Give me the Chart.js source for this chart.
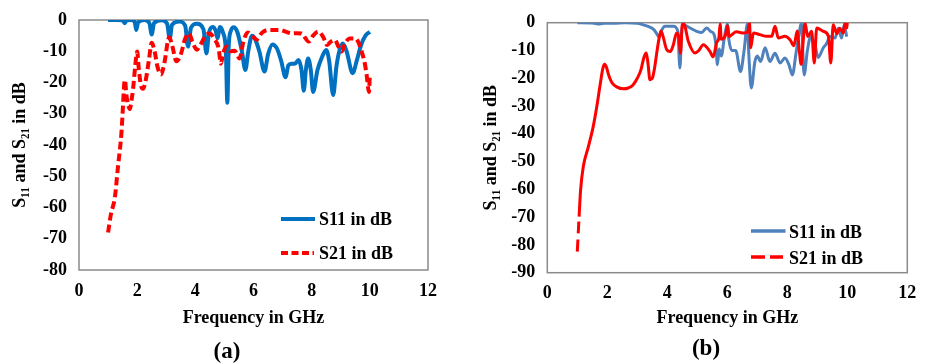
<!DOCTYPE html>
<html><head><meta charset="utf-8">
<script src="https://cdn.jsdelivr.net/npm/chart.js@4"></script>
<style>
html,body{margin:0;padding:0;background:#fff;}
body{width:928px;height:363px;position:relative;overflow:hidden;font-family:'Liberation Serif','Times New Roman',serif;font-weight:bold;color:#000;}
.panel{position:absolute;top:0;width:464px;height:363px;}
.lg{position:absolute;font-size:18px;line-height:20px;white-space:nowrap;}
.sw{position:absolute;}
.cap{position:absolute;font-size:23px;line-height:26px;width:60px;text-align:center;}
</style></head><body>
<div class="panel" style="left:0"><canvas id="ca" width="464" height="363"></canvas></div>
<div class="panel" style="left:464px"><canvas id="cb" width="464" height="363"></canvas></div>

<svg class="sw" style="left:281px;top:213px" width="36" height="12"><line x1="0" y1="6" x2="34" y2="6" stroke="#0070C0" stroke-width="4"/></svg>
<div class="lg" style="left:319px;top:209px">S11 in dB</div>
<svg class="sw" style="left:281px;top:247px" width="36" height="12"><line x1="0" y1="6" x2="33" y2="6" stroke="#FF0000" stroke-width="4" stroke-dasharray="7 3.5"/></svg>
<div class="lg" style="left:319px;top:243px">S21 in dB</div>

<svg class="sw" style="left:751px;top:225px" width="36" height="12"><line x1="0" y1="6" x2="34.5" y2="6" stroke="#4F81BD" stroke-width="3.5"/></svg>
<div class="lg" style="left:789px;top:222px">S11 in dB</div>
<svg class="sw" style="left:751px;top:251px" width="36" height="12"><line x1="0" y1="6" x2="32" y2="6" stroke="#FF0000" stroke-width="3.5" stroke-dasharray="14 5"/></svg>
<div class="lg" style="left:789px;top:248px">S21 in dB</div>

<div class="cap" style="left:197px;top:338px">(a)</div>
<div class="cap" style="left:676px;top:335px">(b)</div>

<script>
// ---- Panel (a) data ----
const freqA11 = [1.0,1.3,1.5,1.57,1.64,1.8,1.92,1.97,2.03,2.25,2.42,2.5,2.58,2.85,3.03,3.12,3.2,3.45,3.65,3.75,3.85,4.05,4.28,4.38,4.47,4.6,4.7,4.76,4.85,4.95,5.05,5.1,5.15,5.22,5.33,5.45,5.6,5.72,5.82,5.95,6.05,6.2,6.38,6.5,6.65,6.8,6.95,7.1,7.2,7.3,7.42,7.55,7.65,7.73,7.8,7.88,7.97,8.05,8.2,8.35,8.5,8.6,8.74,8.85,8.95,9.07,9.2,9.41,9.55,9.7,9.85,10.0];
const s11A = [0,0,-0.1,-1.0,-0.1,0,-0.8,-3.2,-0.8,0,-1,-4.6,-1,-0.1,-1.2,-6.0,-1.5,-0.5,-1.8,-8.5,-2.5,-1.2,-3,-10.7,-4,-2.2,-3.5,-5.8,-2.2,-4,-10,-26.5,-8,-3.5,-2.3,-4,-10,-16,-10,-5,-6,-10,-16.5,-11,-7.8,-9,-13,-18.3,-14.5,-14,-14,-12.8,-16,-22.6,-16,-12.3,-16,-23,-16,-12,-9.6,-13,-24,-15,-10,-7.5,-10,-17,-13,-8,-5,-3.8];
const freqA21 = [1.0,1.1,1.23,1.34,1.46,1.51,1.55,1.58,1.63,1.7,1.75,1.8,1.86,1.93,2.0,2.05,2.12,2.2,2.3,2.4,2.5,2.6,2.7,2.82,2.95,3.05,3.1,3.2,3.35,3.5,3.65,3.78,3.9,4.05,4.2,4.35,4.5,4.65,4.8,4.88,4.95,5.07,5.2,5.35,5.52,5.65,5.8,6.0,6.1,6.3,6.5,6.9,7.1,7.31,7.5,7.65,7.9,8.05,8.23,8.4,8.53,8.65,8.8,8.92,9.03,9.15,9.3,9.5,9.6,9.72,9.83,9.89,9.97,10.0];
const s21A = [-68,-62,-57,-47,-36,-28,-21,-19.2,-24,-27.5,-28.5,-26,-22,-15,-10.1,-15,-20.5,-22,-19,-13,-7.3,-10,-15,-17.4,-13,-7,-5.5,-8,-13.2,-11,-6,-4.3,-7,-9.5,-7.5,-5,-4.3,-6,-9,-14,-11,-8.5,-10,-9.8,-12.3,-7,-4,-5.5,-6.3,-4,-3.2,-3.2,-3.7,-4.3,-4.2,-4.3,-6.9,-5,-3.7,-5.5,-8,-7,-6.4,-8.5,-10.1,-7.5,-5.9,-5.9,-7,-10.1,-14,-17.6,-23,-17.6];

// ---- Panel (b) data ----
const freqB11 = [1.0,1.5,1.75,1.9,2.2,2.6,3.0,3.2,3.4,3.55,3.65,3.72,3.8,3.92,4.2,4.35,4.42,4.48,4.53,4.76,4.98,5.15,5.31,5.45,5.55,5.62,5.67,5.73,5.8,5.9,6.0,6.05,6.15,6.28,6.44,6.56,6.67,6.72,6.8,6.92,7.0,7.11,7.26,7.42,7.59,7.76,7.92,8.05,8.17,8.29,8.4,8.47,8.56,8.67,8.78,8.92,9.03,9.2,9.31,9.42,9.59,9.7,9.81,9.89,9.98];
const s11B = [0,-0.1,-0.5,-0.2,-0.2,0,-0.2,-0.8,-1.5,-2.5,-4,-5.2,-3,-1.3,-1.3,-3,-16.3,-3,-0.7,-1.9,-3.1,-3.5,-1.9,-3.2,-4,-8,-15.1,-9.5,-12,-5.5,-0.5,-6,-10,-10,-17.6,-10,-0.5,-12,-23.5,-14,-12,-14,-9,-14,-11,-14.5,-12.7,-15,-18.8,-11,-3.5,0,-18.8,-10,-5,-8,-12.5,-9,-7.5,-5,-5.5,-2,-5.5,-1,-5];
const freqB21 = [1.0,1.06,1.11,1.2,1.37,1.53,1.65,1.78,1.85,1.91,1.97,2.05,2.15,2.33,2.53,2.7,2.85,3.0,3.12,3.22,3.3,3.36,3.42,3.5,3.58,3.66,3.72,3.79,3.86,3.98,4.1,4.2,4.31,4.38,4.44,4.5,4.55,4.7,4.92,5.05,5.2,5.42,5.53,5.65,5.72,5.76,5.8,5.94,6.01,6.06,6.15,6.3,6.55,6.68,6.74,6.78,6.87,7.09,7.31,7.48,7.59,7.7,7.92,8.09,8.22,8.33,8.4,8.46,8.52,8.59,8.68,8.81,8.9,8.98,9.2,9.37,9.45,9.53,9.65,9.75,9.87,9.92,9.98,10.0];
const s21B = [-82.4,-69.8,-60.2,-51.8,-44.6,-37.4,-30.2,-21,-16.5,-15,-16,-19,-21.5,-23.2,-23.8,-23.5,-22.5,-20,-17,-12.5,-10.9,-15,-20.5,-20,-16,-10,-6,-3,-5,-9.7,-10.4,-8,-3.7,-5,-11,-0.7,-0.3,-6.7,-10.9,-10,-7.9,-10.3,-12.3,-7,-5.5,-0.5,-6,-4.5,-1,-5,-4.3,-3.3,-3.7,-3.3,0,-9,-3.7,-4.3,-4.9,-4.9,-1.3,-5.5,-4.9,-6.1,-8.3,-3,-10,-15,-8,0,-5,-3.1,-14.5,-1.9,-3.1,-4.9,-14.5,-0.7,-4,-2,-3.7,0,-1.9,0];

// ---- Axis labels ----
const xTitle = 'Frequency in GHz';
const yTitle = 'S\u2081\u2081 and S\u2082\u2081 in dB';
const xTicksMin = 0, xTicksMax = 12, xStep = 2;
const yStep = 10;

const pts = (xs, ys) => xs.map((x, i) => ({x, y: ys[i]}));

Chart.defaults.font.family = "'Liberation Serif','Times New Roman',serif";
Chart.defaults.font.weight = 'bold';
Chart.defaults.font.size = 18;
Chart.defaults.color = '#000';

const frame = {
  id: 'frame',
  beforeDatasetsDraw(chart) {
    const {ctx, chartArea: a} = chart;
    ctx.save();
    ctx.strokeStyle = '#8a8a8a';
    ctx.lineWidth = 1.5;
    ctx.strokeRect(a.left, a.top, a.right - a.left, a.bottom - a.top);
    ctx.restore();
  }
};

function makeChart(id, cfg) {
  return new Chart(document.getElementById(id), {
    type: 'line',
    data: {datasets: cfg.datasets},
    options: {
      responsive: false,
      animation: false,
      devicePixelRatio: 1,
      layout: {padding: {left: 0, top: cfg.top, right: cfg.right, bottom: 0}},
      plugins: {legend: {display: false}, tooltip: {enabled: false}},
      elements: {point: {radius: 0}, line: {cubicInterpolationMode: 'monotone'}},
      scales: {
        x: {
          type: 'linear', min: xTicksMin, max: xTicksMax,
          grid: {display: false, drawTicks: false}, border: {display: false},
          ticks: {stepSize: xStep, padding: cfg.xPad, maxRotation: 0},
          title: {display: true, text: xTitle, font: {size: 18, weight: 'bold'}, padding: {top: 0, bottom: 34}},
          afterFit: s => { s.height = cfg.xH; s.paddingLeft = 0; s.paddingRight = 0; }
        },
        y: {
          type: 'linear', min: cfg.yMin, max: 0,
          grid: {display: false, drawTicks: false}, border: {display: false},
          ticks: {stepSize: yStep, padding: 12},
          title: {display: true, text: yTitle, font: {size: 18, weight: 'bold'}, padding: {top: cfg.yTitlePad, bottom: 0}},
          afterFit: s => { s.width = cfg.yW; s.paddingTop = 0; s.paddingBottom = 0; }
        }
      }
    },
    plugins: [frame]
  });
}

makeChart('ca', {
  top: 20, right: 36, xH: 93, yW: 79, yMin: -80, xPad: 11, yTitlePad: 10,
  datasets: [
    {label: 'S11 in dB', data: pts(freqA11, s11A), borderColor: '#0070C0', borderWidth: 4, order: 1},
    {label: 'S21 in dB', data: pts(freqA21, s21A), borderColor: '#FF0000', borderWidth: 4, borderDash: [8, 4], order: 0}
  ]
});

makeChart('cb', {
  top: 22.7, right: 20.7, xH: 90.3, yW: 83.3, yMin: -90, xPad: 10, yTitlePad: 17,
  datasets: [
    {label: 'S11 in dB', data: pts(freqB11, s11B), borderColor: '#4F81BD', borderWidth: 3, order: 1},
    {label: 'S21 in dB', data: pts(freqB21, s21B), borderColor: '#FF0000', borderWidth: 3, order: 0,
     segment: {borderDash: c => c.p0DataIndex === 0 ? [12, 6] : []}}
  ]
});
</script>
</body></html>
